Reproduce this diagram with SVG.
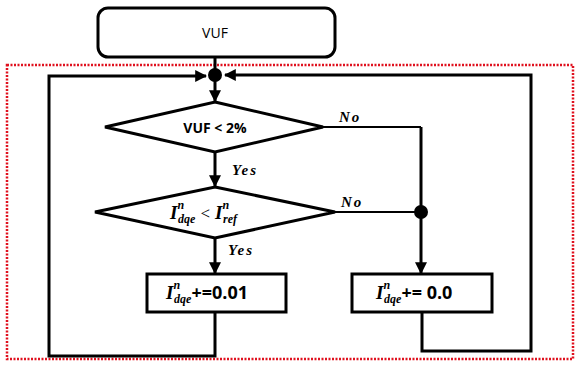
<svg xmlns="http://www.w3.org/2000/svg" width="577" height="369" viewBox="0 0 577 369">
<style>
.shape{fill:#fff;stroke:#000;stroke-width:3}
.ln{fill:none;stroke:#000;stroke-width:3}
.thin{fill:none;stroke:#000;stroke-width:2}
.t{font-family:"Open Sans","Liberation Sans",sans-serif;font-size:14px;text-anchor:middle;fill:#000}
.b{font-weight:bold}
.m{font-family:"Liberation Serif",serif;font-style:italic;font-weight:bold;fill:#000}
.lbl{font-size:15px;letter-spacing:2px}
.op{font-family:"Open Sans","Liberation Sans",sans-serif;font-style:normal;font-weight:bold;font-size:18px}
.sc{font-size:12px}
</style>
<defs>
<marker id="ah" viewBox="0 0 10 10" refX="9" refY="5" markerWidth="4" markerHeight="4" orient="auto" markerUnits="strokeWidth">
<path d="M0,0 L10,5 L0,10 z" fill="#000"/>
</marker>
</defs>
<rect x="7" y="65" width="566" height="294" fill="none" stroke="#e0101e" stroke-width="2.5" stroke-dasharray="2,1.5"/>
<g id="connectors">
<line class="ln" x1="215" y1="57" x2="215" y2="101" marker-end="url(#ah)"/>
<line class="ln" x1="215" y1="152" x2="215" y2="186" marker-end="url(#ah)"/>
<line class="ln" x1="215" y1="238" x2="215" y2="273" marker-end="url(#ah)"/>
<polyline class="thin" points="323,127 421,127"/>
<polyline class="ln" points="421,127 421,273" marker-end="url(#ah)"/>
<line class="thin" x1="335" y1="212" x2="421" y2="212"/>
<circle cx="421" cy="212" r="7" fill="#000"/>
<polyline class="ln" points="215,312 215,356 49,356 49,76 206,76" marker-end="url(#ah)"/>
<polyline class="ln" points="422,312 422,351 531,351 531,75 225,75" marker-end="url(#ah)"/>
<circle cx="215" cy="75" r="7" fill="#000"/>
<text class="m lbl" x="339" y="122">No</text>
<text class="m lbl" x="341" y="207">No</text>
<text class="m lbl" x="232" y="175">Yes</text>
<text class="m lbl" x="228" y="255">Yes</text>
</g>
<g id="vuf">
<rect class="shape" x="98" y="8" width="237" height="49" rx="10"/>
<text class="t" x="215" y="38" font-size="15">VUF</text>
</g>
<g id="d1">
<polygon class="shape" points="215,102 323,127 215,152 105,127"/>
<text class="t b" x="215" y="133" font-size="16">VUF &lt; 2%</text>
</g>
<g id="d2">
<polygon class="shape" points="215,187 335,212 215,238 95,212"/>
<text class="m" x="170" y="219" font-size="19">I<tspan class="sc" dy="-10">n</tspan><tspan class="sc" dx="-6" dy="14">dqe</tspan><tspan font-size="17" dy="-4" font-style="normal" font-weight="normal" dx="5">&lt;</tspan><tspan dx="5">I</tspan><tspan class="sc" dy="-10">n</tspan><tspan class="sc" dx="-6" dy="14">ref</tspan></text>
</g>
<g id="b1">
<rect class="shape" x="147" y="274" width="139" height="38"/>
<text class="m" x="166" y="299" font-size="19">I<tspan class="sc" dy="-10">n</tspan><tspan class="sc" dx="-6" dy="14">dqe</tspan><tspan class="op" dy="-4">+=0.01</tspan></text>
</g>
<g id="b2">
<rect class="shape" x="352" y="274" width="140" height="38"/>
<text class="m" x="376" y="299" font-size="19">I<tspan class="sc" dy="-10">n</tspan><tspan class="sc" dx="-6" dy="14">dqe</tspan><tspan class="op" dy="-4">+= 0.0</tspan></text>
</g>
</svg>
